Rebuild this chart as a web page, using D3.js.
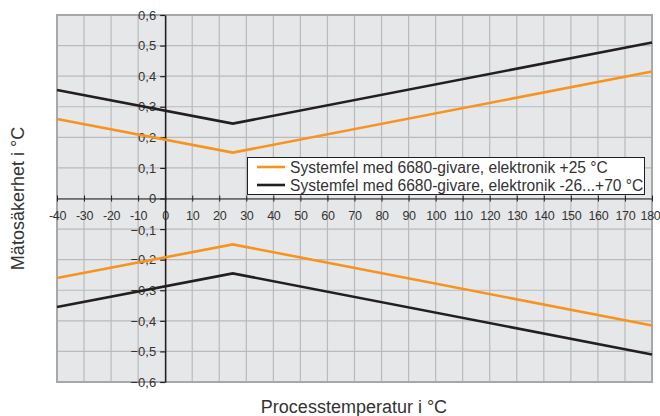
<!DOCTYPE html>
<html><head><meta charset="utf-8">
<script src="https://cdn.jsdelivr.net/npm/d3@7"></script>
<style>body{margin:0;background:#fff}svg{display:block}</style>
</head><body>
<svg id="c" width="660" height="416"></svg>
<script>
const temps = [-40, 25, 180];
const orangeUpper = [0.26, 0.15, 0.415];
const blackUpper = [0.355, 0.245, 0.51];
const orangeLower = [-0.26, -0.15, -0.415];
const blackLower = [-0.355, -0.245, -0.51];
const xTicks = d3.range(-40, 181, 10);
const yTicks = [-0.6, -0.5, -0.4, -0.3, -0.2, -0.1, 0, 0.1, 0.2, 0.3, 0.4, 0.5, 0.6];
const legendLabels = ["Systemfel med 6680-givare, elektronik +25 °C", "Systemfel med 6680-givare, elektronik -26...+70 °C"];
const colors = ["#f7931e", "#231f20"];

const svg = d3.select("#c");
const L = 57, R = 652, T = 15, B = 382;
const x = d3.scaleLinear().domain([-40, 180]).range([L, R]);
const y = d3.scaleLinear().domain([-0.6, 0.6]).range([B, T]);
const font = "Liberation Sans, Arial, sans-serif";
const fmt = v => v === 0 ? "0" : d3.format(".1f")(v).replace(".", ",");

svg.append("rect").attr("x", L).attr("y", T).attr("width", R - L).attr("height", B - T).attr("fill", "#e6e7e9");
const g = svg.append("g");
g.selectAll("line.v").data(xTicks).join("line")
  .attr("x1", d => x(d)).attr("x2", d => x(d)).attr("y1", T).attr("y2", B)
  .attr("stroke", "#b9babc").attr("stroke-width", 1.2);
g.selectAll("line.h").data(yTicks).join("line")
  .attr("y1", d => y(d)).attr("y2", d => y(d)).attr("x1", L).attr("x2", R)
  .attr("stroke", "#b9babc").attr("stroke-width", 1.2);
svg.append("rect").attr("x", L).attr("y", T).attr("width", R - L).attr("height", B - T)
  .attr("fill", "none").attr("stroke", "#a7a8aa").attr("stroke-width", 2);

// axes
const xAxis = svg.append("g").attr("transform", `translate(0,${y(0)})`)
  .call(d3.axisBottom(x).tickValues(xTicks).tickSize(0).tickPadding(13).tickFormat(d => d));
xAxis.select(".domain").attr("stroke", "#231f20").attr("stroke-width", 1.2);
xAxis.selectAll("text").attr("font-family", font).attr("font-size", 12.5).attr("fill", "#333")
  .attr("letter-spacing", "-0.3");
xAxis.selectAll(".tick").filter(d => d === 180).select("text").attr("text-anchor", "end").attr("x", 8);
xAxis.selectAll(".tick").append("line").attr("y1", -3).attr("y2", 3).attr("stroke", "#231f20");

const yAxis = svg.append("g").attr("transform", `translate(${x(0)},0)`)
  .call(d3.axisLeft(y).tickValues(yTicks).tickSize(5).tickPadding(4).tickSizeOuter(0).tickFormat(fmt));
yAxis.select(".domain").attr("stroke", "#231f20").attr("stroke-width", 1.5);
yAxis.selectAll(".tick line").attr("stroke", "#231f20").attr("stroke-width", 1.2);
yAxis.selectAll("text").attr("font-family", font).attr("font-size", 13).attr("fill", "#333");
yAxis.selectAll(".tick").filter(d => d === -0.1).select("text").attr("dy", "0.45em");

// lines
const line = d3.line().x((d, i) => x(temps[i])).y(d => y(d));
[[orangeUpper, 0], [orangeLower, 0], [blackUpper, 1], [blackLower, 1]].forEach(([vals, ci]) => {
  svg.append("path").datum(vals).attr("d", line).attr("fill", "none")
    .attr("stroke", colors[ci]).attr("stroke-width", 2.6);
});

// legend
const lg = svg.append("g");
lg.append("rect").attr("x", 247.5).attr("y", 157.5).attr("width", 397).attr("height", 37)
  .attr("fill", "#fff").attr("stroke", "#231f20").attr("stroke-width", 1);
legendLabels.forEach((t, i) => {
  const yy = 167 + i * 18;
  lg.append("line").attr("x1", 257).attr("x2", 285).attr("y1", yy).attr("y2", yy)
    .attr("stroke", colors[i]).attr("stroke-width", 2.6);
  lg.append("text").attr("x", 290).attr("y", yy + 5.5).text(t)
    .attr("font-family", font).attr("font-size", 15.6).attr("fill", "#333");
});

// titles
svg.append("text").attr("x", 354).attr("y", 413).attr("text-anchor", "middle")
  .attr("font-family", font).attr("font-size", 18).attr("fill", "#333").text("Processtemperatur i °C");
svg.append("text").attr("transform", `translate(24,${y(0)}) rotate(-90)`).attr("text-anchor", "middle")
  .attr("font-family", font).attr("font-size", 18).attr("fill", "#333").text("Mätosäkerhet i °C");
</script>
</body></html>
